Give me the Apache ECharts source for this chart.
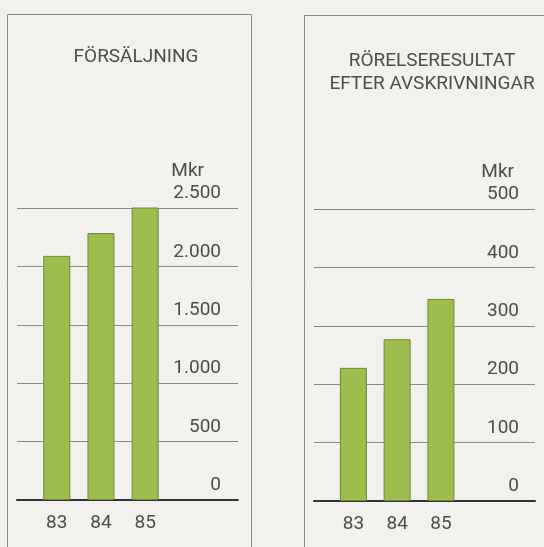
<!DOCTYPE html>
<html>
<head>
<meta charset="utf-8">
<script src="https://cdn.jsdelivr.net/npm/echarts@6/dist/echarts.min.js"></script>
<style>
  html, body { margin: 0; padding: 0; background: #f2f1ed; }
  #chart { width: 544px; height: 547px; }
</style>
</head>
<body>
<div id="chart"></div>
<script>
// år (kategorier)
const years = [83, 84, 85];
// försäljning, Mkr
const salesValues = [2090, 2285, 2560];
// rörelseresultat efter avskrivningar, Mkr
const profitValues = [228, 277, 346];
// y-axlarnas skalsteg
const salesTicks = [0, 500, 1000, 1500, 2000, 2500];
const profitTicks = [0, 100, 200, 300, 400, 500];

const chart = echarts.init(document.getElementById("chart"));

const textColor = "#4d4d4d";
const font = "Roboto, 'Liberation Sans', sans-serif";
const fs = 19;

// 2500 -> "2.500"
function fmt(v) {
  return String(v).replace(/\B(?=(\d{3})+(?!\d))/g, ".");
}

function pairs(vals) {
  return years.map((y, i) => [y, vals[i]]);
}

function xAxisFor(idx, max) {
  return {
    gridIndex: idx,
    type: "value",
    min: 82.1,
    max: max,
    splitLine: { show: false },
    axisTick: { show: false },
    axisLine: { show: true, onZero: true, lineStyle: { color: "#333", width: 2 } },
    axisLabel: {
      customValues: years,
      formatter: (v) => String(v),
      margin: 14,
      fontSize: fs,
      fontFamily: font,
      color: textColor,
    },
  };
}

function yAxisFor(idx, ticks, labelMargin, namePad) {
  return {
    gridIndex: idx,
    type: "value",
    position: "right",
    min: ticks[0],
    max: ticks[ticks.length - 1],
    interval: ticks[1] - ticks[0],
    name: "Mkr",
    nameLocation: "end",
    nameGap: 27,
    nameTextStyle: {
      fontSize: fs,
      fontFamily: font,
      color: textColor,
      align: "right",
      padding: [0, namePad, 0, 0],
    },
    axisLine: { show: false },
    axisTick: { show: false },
    splitLine: { show: true, lineStyle: { color: "#8a8a88", width: 1 } },
    axisLabel: {
      inside: true,
      margin: labelMargin,
      verticalAlign: "bottom",
      padding: [0, 0, 5, 0],
      fontSize: fs,
      fontFamily: font,
      color: textColor,
      formatter: fmt,
    },
  };
}

const barStyle = {
  color: "#9dbd4d",
  borderColor: "#6f8a3c",
  borderWidth: 1,
};

const option = {
  backgroundColor: "#f2f1ed",
  animation: false,
  title: [
    {
      text: "FÖRSÄLJNING",
      left: 131,
      top: 43,
      textAlign: "center",
      textStyle: { fontSize: fs, fontWeight: "normal", fontFamily: font, color: textColor },
    },
    {
      text: "RÖRELSERESULTAT\nEFTER AVSKRIVNINGAR",
      left: 427,
      top: 45,
      textAlign: "center",
      textStyle: {
        fontSize: fs,
        lineHeight: 23,
        fontWeight: "normal",
        fontFamily: font,
        color: textColor,
      },
    },
  ],
  graphic: [
    {
      type: "rect",
      shape: { x: 7.5, y: 14.5, width: 244, height: 540 },
      style: { fill: "none", stroke: "#8a8a88", lineWidth: 1 },
      silent: true,
    },
    {
      type: "rect",
      shape: { x: 304.5, y: 15.5, width: 260, height: 540 },
      style: { fill: "none", stroke: "#8a8a88", lineWidth: 1 },
      silent: true,
    },
  ],
  grid: [
    { left: 17, right: 306, top: 208, bottom: 47 },
    { left: 314, right: 9, top: 209, bottom: 46 },
  ],
  xAxis: [xAxisFor(0, 87.1), xAxisFor(1, 87.15)],
  yAxis: [yAxisFor(0, salesTicks, 17, 34), yAxisFor(1, profitTicks, 16, 21)],
  series: [
    {
      name: "Försäljning",
      type: "bar",
      xAxisIndex: 0,
      yAxisIndex: 0,
      barWidth: 27,
      data: pairs(salesValues),
      itemStyle: barStyle,
    },
    {
      name: "Rörelseresultat",
      type: "bar",
      xAxisIndex: 1,
      yAxisIndex: 1,
      barWidth: 27,
      data: pairs(profitValues),
      itemStyle: barStyle,
    },
  ],
};

chart.setOption(option);
</script>
</body>
</html>
